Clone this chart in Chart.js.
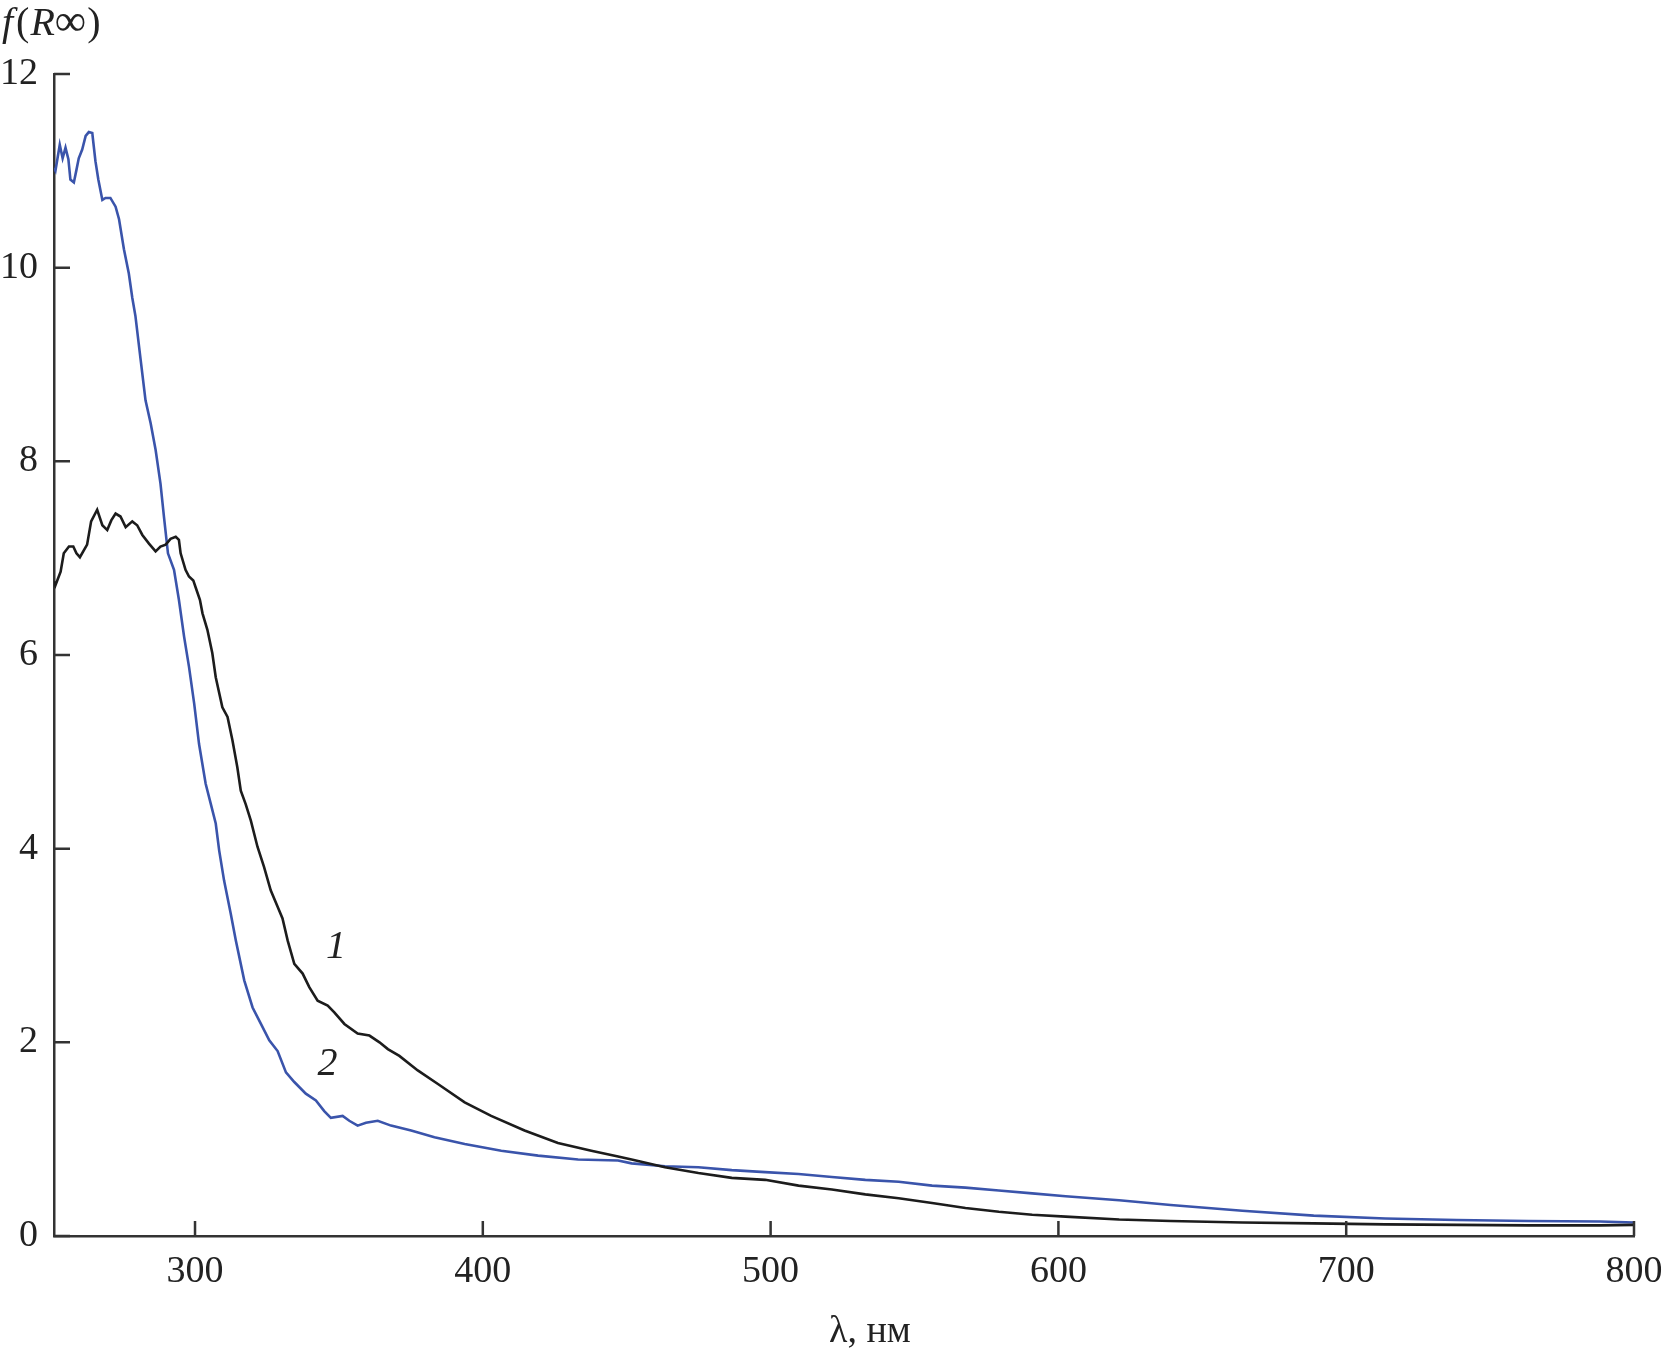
<!DOCTYPE html>
<html>
<head>
<meta charset="utf-8">
<script src="https://cdn.jsdelivr.net/npm/chart.js@4/dist/chart.umd.min.js"></script>
<style>
  html, body { margin: 0; padding: 0; background: #fff; }
  #wrap { width: 1665px; height: 1354px; }
</style>
</head>
<body>
<div id="wrap"><canvas id="specChart" width="1665" height="1354"></canvas></div>
<script>
// curve 1 (black)
const lambda1 = [251, 251.5, 253.3, 254.4, 256.2, 257.7, 258.8, 260, 262.5, 263.9, 266, 267.8, 269.5, 270.9, 272.4, 274.1, 275.9, 278.2, 279.9, 281.7, 284, 286.3, 288, 289.8, 291.5, 293.3, 294.4, 295, 296.7, 297.9, 299.4, 300.2, 301.7, 302.6, 304.3, 306, 307.2, 309.5, 311.3, 313, 314.7, 315.9, 317.6, 319.4, 321.7, 324, 326.3, 328.7, 330.4, 332.2, 334.5, 337.4, 339.7, 342.6, 346.1, 348.4, 351.9, 356.5, 360.6, 364.1, 367, 371, 377.4, 384.4, 393.7, 402.9, 414.5, 426.1, 437.7, 447, 451.7, 463.3, 474.9, 486.5, 498.1, 509.7, 521.3, 532.9, 544.5, 556.1, 567.7, 579.3, 590.9, 602.5, 621.1, 639, 663.9, 688.7, 713.6, 738.4, 763.3, 788.2, 800];
const values1 = [6.76, 6.72, 6.86, 7.05, 7.12, 7.12, 7.05, 7.01, 7.14, 7.38, 7.50, 7.34, 7.29, 7.39, 7.46, 7.43, 7.32, 7.38, 7.34, 7.24, 7.15, 7.07, 7.12, 7.14, 7.20, 7.22, 7.19, 7.05, 6.88, 6.81, 6.77, 6.70, 6.57, 6.43, 6.26, 6.02, 5.77, 5.46, 5.36, 5.12, 4.84, 4.60, 4.46, 4.29, 4.02, 3.81, 3.57, 3.40, 3.28, 3.05, 2.81, 2.71, 2.57, 2.43, 2.38, 2.31, 2.19, 2.09, 2.07, 2.00, 1.93, 1.86, 1.71, 1.57, 1.38, 1.24, 1.09, 0.96, 0.88, 0.82, 0.79, 0.71, 0.65, 0.60, 0.58, 0.52, 0.48, 0.43, 0.39, 0.34, 0.29, 0.25, 0.22, 0.20, 0.17, 0.155, 0.14, 0.13, 0.12, 0.115, 0.11, 0.11, 0.115];

// curve 2 (blue)
const lambda2 = [251, 251.5, 253, 254, 255, 256, 256.7, 257.9, 258.8, 259.6, 260.8, 262, 263.1, 264.3, 265.4, 266.4, 267.8, 268.9, 270.6, 272.4, 273.6, 275.3, 277, 278.2, 279.3, 281.1, 282.8, 284.6, 286.3, 288, 289.2, 290.6, 292.7, 294.4, 296.2, 297.9, 299.7, 301.4, 303.7, 305.5, 307.2, 308.4, 310.1, 312.4, 314.2, 317.1, 320, 322.9, 325.8, 328.7, 331.6, 334.5, 338.5, 342, 344.9, 347.2, 351.3, 353.6, 356.5, 359.4, 363.5, 368.1, 375.1, 383.2, 393.7, 406.4, 419.2, 433.1, 447, 451.7, 463.3, 474.9, 486.5, 498.1, 509.7, 521.3, 532.9, 544.5, 556.1, 567.7, 579.3, 590.9, 602.5, 621.1, 639, 663.9, 688.7, 713.6, 738.4, 763.3, 788.2, 800];
const values2 = [11.03, 11.0, 11.27, 11.13, 11.24, 11.12, 10.91, 10.88, 11.01, 11.13, 11.22, 11.36, 11.40, 11.39, 11.10, 10.91, 10.70, 10.72, 10.72, 10.63, 10.50, 10.19, 9.94, 9.69, 9.50, 9.05, 8.63, 8.39, 8.12, 7.77, 7.43, 7.05, 6.88, 6.57, 6.19, 5.88, 5.50, 5.08, 4.67, 4.46, 4.26, 3.98, 3.67, 3.33, 3.05, 2.64, 2.36, 2.19, 2.02, 1.91, 1.69, 1.59, 1.47, 1.40, 1.29, 1.22, 1.24, 1.19, 1.14, 1.17, 1.19, 1.14, 1.09, 1.02, 0.95, 0.88, 0.83, 0.79, 0.78, 0.75, 0.72, 0.71, 0.68, 0.66, 0.64, 0.61, 0.58, 0.56, 0.52, 0.50, 0.47, 0.44, 0.41, 0.37, 0.32, 0.26, 0.21, 0.18, 0.165, 0.155, 0.15, 0.14];

// axes
const xTicks = [300, 400, 500, 600, 700, 800];
const yTicks = [0, 2, 4, 6, 8, 10, 12];

// curve labels: [text, lambda, value]
const curveLabels = [['1', 349, 3.02], ['2', 346, 1.81]];

const serif = '"Liberation Serif", "DejaVu Serif", serif';
const axisColor = '#333';

const toPoints = (xs, ys) => xs.map((x, i) => ({ x: x, y: ys[i] }));

// inward tick marks, axis titles and curve numbers
const decorations = {
    id: 'decorations',
    afterDatasetsDraw(chart) {
        const { ctx, chartArea, scales: { x, y } } = chart;
        ctx.save();
        ctx.strokeStyle = axisColor;
        ctx.lineWidth = 2.5;
        ctx.beginPath();
        xTicks.forEach(v => {
            const px = x.getPixelForValue(v);
            ctx.moveTo(px, chartArea.bottom);
            ctx.lineTo(px, chartArea.bottom - 15);
        });
        yTicks.forEach(v => {
            const py = y.getPixelForValue(v);
            ctx.moveTo(chartArea.left, py);
            ctx.lineTo(chartArea.left + 16, py);
        });
        ctx.stroke();

        ctx.fillStyle = '#222';
        ctx.textBaseline = 'alphabetic';

        // curve numbers
        ctx.font = 'italic 40px ' + serif;
        ctx.textAlign = 'center';
        curveLabels.forEach(([t, lx, ly]) => {
            ctx.fillText(t, x.getPixelForValue(lx), y.getPixelForValue(ly) + 14);
        });

        // x axis title
        ctx.font = '38px ' + serif;
        ctx.fillText('λ, нм', 870, 1342);

        // y axis title f(R∞)
        ctx.textAlign = 'left';
        let cx = 2;
        const parts = [
            ['italic 40px ', 'f', 3], ['40px ', '(', 1], ['italic 40px ', 'R', 0],
            ['44px ', '∞', 1], ['40px ', ')', 0]
        ];
        parts.forEach(([f, t, gap]) => {
            ctx.font = f + serif;
            ctx.fillText(t, cx, 35);
            cx += ctx.measureText(t).width + gap;
        });
        ctx.restore();
    }
};

new Chart(document.getElementById('specChart'), {
    type: 'line',
    data: {
        datasets: [
            {
                label: '1',
                data: toPoints(lambda1, values1),
                borderColor: '#1c1c1c',
                borderWidth: 2.6,
                pointRadius: 0,
                tension: 0
            },
            {
                label: '2',
                data: toPoints(lambda2, values2),
                borderColor: '#3a54ab',
                borderWidth: 2.6,
                pointRadius: 0,
                tension: 0
            }
        ]
    },
    options: {
        responsive: false,
        animation: false,
        devicePixelRatio: 1,
        layout: { padding: { top: 74, right: 31, left: 0, bottom: 0 } },
        plugins: {
            legend: { display: false },
            tooltip: { enabled: false }
        },
        scales: {
            x: {
                type: 'linear',
                min: 251,
                max: 800,
                afterBuildTicks: s => { s.ticks = xTicks.map(v => ({ value: v })); },
                afterFit: s => {
                    s.height = 118;
                    s.paddingLeft = 0;
                    s.paddingRight = 0;
                },
                grid: { display: false, drawTicks: false },
                border: { display: true, color: axisColor, width: 2.5 },
                ticks: {
                    color: '#222',
                    font: { family: serif, size: 38 },
                    padding: 13,
                    maxRotation: 0
                }
            },
            y: {
                min: 0,
                max: 12,
                afterBuildTicks: s => { s.ticks = yTicks.map(v => ({ value: v })); },
                afterFit: s => {
                    s.width = 54;
                    s.paddingTop = 0;
                    s.paddingBottom = 0;
                },
                grid: { display: false, drawTicks: false },
                border: { display: true, color: axisColor, width: 2.5 },
                ticks: {
                    color: '#222',
                    font: { family: serif, size: 38 },
                    padding: 16
                }
            }
        }
    },
    plugins: [decorations]
});
</script>
</body>
</html>
